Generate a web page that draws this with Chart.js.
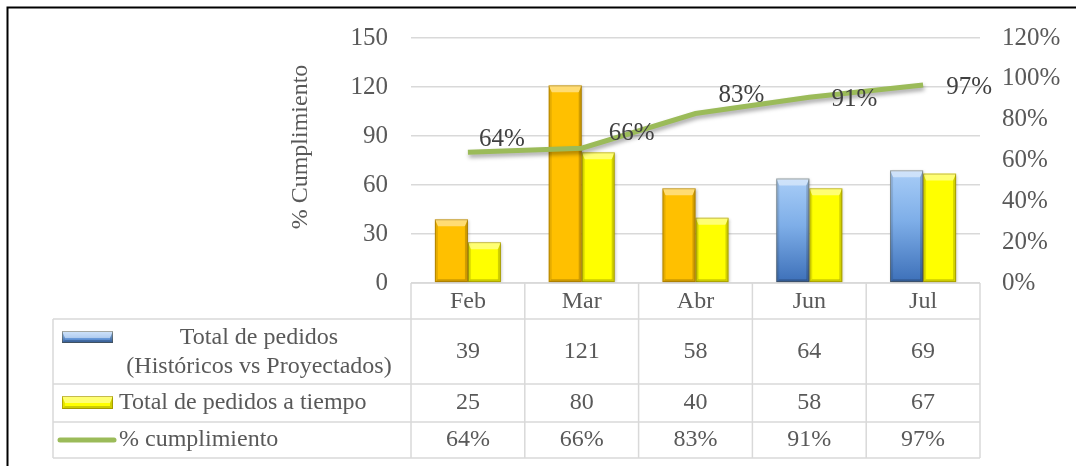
<!DOCTYPE html>
<html>
<head>
<meta charset="utf-8">
<script src="https://cdn.jsdelivr.net/npm/chart.js@4.4.1/dist/chart.umd.min.js"></script>
<style>
  html, body { margin: 0; padding: 0; background: #ffffff; }
  #grafico { display: block; }
</style>
</head>
<body>
<canvas id="grafico" width="1076" height="466"></canvas>
<script>
// datos
var categorias = ["Feb", "Mar", "Abr", "Jun", "Jul"];
var totalPedidos = [39, 121, 58, 64, 69];
var pedidosATiempo = [25, 80, 40, 58, 67];
var cumplimiento = [0.64, 0.66, 0.83, 0.91, 0.97];
var esHistorico = [true, true, true, false, false];
var ticksPedidos = [0, 30, 60, 90, 120, 150];
var ticksPorcentaje = [0, 0.2, 0.4, 0.6, 0.8, 1.0, 1.2];
var filasTabla = [
    ["Total de pedidos", "(Históricos vs Proyectados)"],
    ["Total de pedidos a tiempo"],
    ["% cumplimiento"]
];
var tituloEje = "% Cumplimiento";

var FUENTE = '"Liberation Serif", "DejaVu Serif", serif';
var GRIS_TEXTO = "#595959";
var GRIS_LINEA = "#d9d9d9";
var VERDE = "#9bbb59";
var NARANJA = "#ffc000";
var AMARILLO = "#ffff00";

function pct(v) {
    return Math.round(v * 100) + "%";
}

function gradienteAzul(ctx, yTop, yBot) {
    var g = ctx.createLinearGradient(0, yTop, 0, yBot);
    g.addColorStop(0, "#a8cdf7");
    g.addColorStop(0.45, "#7eaee8");
    g.addColorStop(1, "#3c6fb8");
    return g;
}

// caras del bisel sobre una barra ya pintada
function bisel(ctx, x0, x1, yTop, yBot) {
    var b = 3, bt = 7;
    if (yBot - yTop < bt + b) {
        bt = Math.max(1, (yBot - yTop) / 2);
    }
    ctx.save();
    ctx.fillStyle = "rgba(255,255,255,0.45)";
    ctx.beginPath();
    ctx.moveTo(x0, yTop);
    ctx.lineTo(x1, yTop);
    ctx.lineTo(x1 - b, yTop + bt);
    ctx.lineTo(x0 + b, yTop + bt);
    ctx.closePath();
    ctx.fill();
    ctx.fillStyle = "rgba(0,0,0,0.10)";
    ctx.beginPath();
    ctx.moveTo(x0, yTop);
    ctx.lineTo(x0 + b, yTop + bt);
    ctx.lineTo(x0 + b, yBot - b);
    ctx.lineTo(x0, yBot);
    ctx.closePath();
    ctx.fill();
    ctx.fillStyle = "rgba(0,0,0,0.18)";
    ctx.beginPath();
    ctx.moveTo(x1, yTop);
    ctx.lineTo(x1 - b, yTop + bt);
    ctx.lineTo(x1 - b, yBot - b);
    ctx.lineTo(x1, yBot);
    ctx.closePath();
    ctx.fill();
    ctx.fillStyle = "rgba(0,0,0,0.20)";
    ctx.beginPath();
    ctx.moveTo(x0, yBot);
    ctx.lineTo(x0 + b, yBot - b);
    ctx.lineTo(x1 - b, yBot - b);
    ctx.lineTo(x1, yBot);
    ctx.closePath();
    ctx.fill();
    ctx.strokeStyle = "rgba(90,60,0,0.35)";
    ctx.lineWidth = 1;
    ctx.strokeRect(x0 + 0.5, yTop + 0.5, x1 - x0 - 1, yBot - yTop - 1);
    ctx.restore();
}

var pluginBisel = {
    "id": "bisel",
    "afterDatasetDraw": function (chart, args) {
        var meta = args.meta;
        if (meta.type !== "bar") {
            return;
        }
        var ctx = chart.ctx;
        meta.data.forEach(function (bar) {
            var p = bar.getProps(["x", "y", "base", "width"], true);
            bisel(ctx, p.x - p.width / 2, p.x + p.width / 2, p.y, p.base);
        });
    }
};

var pluginSombra = {
    "id": "sombra",
    "beforeDatasetDraw": function (chart, args) {
        var ctx = chart.ctx;
        ctx.save();
        if (args.meta.type === "line") {
            ctx.shadowColor = "rgba(0,0,0,0.35)";
            ctx.shadowBlur = 4;
            ctx.shadowOffsetX = 1;
            ctx.shadowOffsetY = 3;
        } else {
            ctx.shadowColor = "rgba(0,0,0,0.25)";
            ctx.shadowBlur = 3;
            ctx.shadowOffsetX = 1;
            ctx.shadowOffsetY = 1;
        }
    },
    "afterDatasetDraw": function (chart) {
        chart.ctx.restore();
    }
};

var pluginEtiquetas = {
    "id": "etiquetas",
    "afterDatasetsDraw": function (chart, args, opts) {
        var ctx = chart.ctx;
        chart.data.datasets.forEach(function (ds, di) {
            if (ds.type !== "line") {
                return;
            }
            var meta = chart.getDatasetMeta(di);
            ctx.save();
            ctx.font = "25px " + FUENTE;
            ctx.fillStyle = "#404040";
            ctx.textAlign = "center";
            ctx.textBaseline = "middle";
            meta.data.forEach(function (pt, i) {
                ctx.fillText(pct(ds.data[i]), pt.x + opts.dx[i], pt.y + opts.dy[i]);
            });
            ctx.restore();
        });
    }
};

var pluginTabla = {
    "id": "tabla",
    "afterDraw": function (chart) {
        var ctx = chart.ctx;
        var area = chart.chartArea;
        var xs = chart.scales.x;
        var paso = xs.getPixelForValue(1) - xs.getPixelForValue(0);
        var izq = 53;
        var y0 = area.bottom;
        var y1 = y0 + 36;
        var y2 = y1 + 65;
        var y3 = y2 + 38;
        var y4 = y3 + 36;

        ctx.save();
        // marco exterior
        ctx.strokeStyle = "#000000";
        ctx.lineWidth = 2;
        ctx.strokeRect(7.5, 7.5, 1200, 600);

        // titulo del eje
        ctx.save();
        ctx.translate(301, 147);
        ctx.rotate(-Math.PI / 2);
        ctx.font = "24px " + FUENTE;
        ctx.fillStyle = GRIS_TEXTO;
        ctx.textAlign = "center";
        ctx.textBaseline = "middle";
        ctx.fillText(tituloEje, 0, 0);
        ctx.restore();

        // lineas de la tabla
        ctx.strokeStyle = GRIS_LINEA;
        ctx.lineWidth = 1.5;
        ctx.beginPath();
        ctx.moveTo(area.left, y0); ctx.lineTo(area.right, y0);
        [y1, y2, y3, y4].forEach(function (y) {
            ctx.moveTo(izq, y); ctx.lineTo(area.right, y);
        });
        ctx.moveTo(izq, y1); ctx.lineTo(izq, y4);
        for (var c = 0; c <= categorias.length; c++) {
            var x = area.left + c * paso;
            ctx.moveTo(x, y0); ctx.lineTo(x, y4);
        }
        ctx.stroke();

        // textos
        ctx.font = "24px " + FUENTE;
        ctx.fillStyle = GRIS_TEXTO;
        ctx.textBaseline = "middle";
        ctx.textAlign = "center";
        categorias.forEach(function (cat, i) {
            var cx = xs.getPixelForValue(i);
            ctx.fillText(cat, cx, (y0 + y1) / 2 + 1);
            ctx.fillText(String(totalPedidos[i]), cx, (y1 + y2) / 2);
            ctx.fillText(String(pedidosATiempo[i]), cx, (y2 + y3) / 2);
            ctx.fillText(pct(cumplimiento[i]), cx, (y3 + y4) / 2);
        });
        ctx.fillText(filasTabla[0][0], 259, y1 + 19);
        ctx.fillText(filasTabla[0][1], 259, y1 + 48);
        ctx.textAlign = "left";
        ctx.fillText(filasTabla[1][0], 119, (y2 + y3) / 2);
        ctx.fillText(filasTabla[2][0], 119, (y3 + y4) / 2);

        // simbolos de la leyenda
        var sy = y1 + 12;
        ctx.fillStyle = gradienteAzul(ctx, sy, sy + 12);
        ctx.fillRect(62, sy, 51, 12);
        bisel(ctx, 62, 113, sy, sy + 12);
        var sy2 = y2 + 12;
        ctx.fillStyle = AMARILLO;
        ctx.fillRect(62, sy2, 51, 13);
        bisel(ctx, 62, 113, sy2, sy2 + 13);
        ctx.strokeStyle = VERDE;
        ctx.lineWidth = 5;
        ctx.lineCap = "round";
        ctx.beginPath();
        ctx.moveTo(60, (y3 + y4) / 2);
        ctx.lineTo(114, (y3 + y4) / 2);
        ctx.stroke();
        ctx.restore();
    }
};

var colorTotal = function (context) {
    var i = context.dataIndex;
    if (esHistorico[i]) {
        return NARANJA;
    }
    var chart = context.chart;
    if (!chart.chartArea || !chart.scales.y) {
        return "#6fa0e0";
    }
    var ys = chart.scales.y;
    return gradienteAzul(chart.ctx, ys.getPixelForValue(totalPedidos[i]), ys.getPixelForValue(0));
};

var config = {
    "data": {
        "labels": categorias,
        "datasets": [
            {
                "type": "line",
                "label": filasTabla[2][0],
                "data": cumplimiento,
                "yAxisID": "y1",
                "borderColor": VERDE,
                "borderWidth": 5,
                "pointRadius": 0,
                "tension": 0,
                "fill": false,
                "order": 0
            },
            {
                "type": "bar",
                "label": filasTabla[0].join(" "),
                "data": totalPedidos,
                "yAxisID": "y",
                "backgroundColor": colorTotal,
                "borderWidth": 0,
                "barPercentage": 1,
                "categoryPercentage": 0.58,
                "order": 1
            },
            {
                "type": "bar",
                "label": filasTabla[1][0],
                "data": pedidosATiempo,
                "yAxisID": "y",
                "backgroundColor": AMARILLO,
                "borderWidth": 0,
                "barPercentage": 1,
                "categoryPercentage": 0.58,
                "order": 1
            }
        ]
    },
    "options": {
        "responsive": false,
        "animation": false,
        "layout": {
            "padding": { "left": 0, "right": 0, "top": 37, "bottom": 183 }
        },
        "plugins": {
            "legend": { "display": false },
            "tooltip": { "enabled": false },
            "etiquetas": {
                "dx": [34, 50, 46, 45, 46],
                "dy": [-13, -15, -18, 2, 2]
            }
        },
        "scales": {
            "x": {
                "display": false,
                "offset": true
            },
            "y": {
                "position": "left",
                "min": ticksPedidos[0],
                "max": ticksPedidos[ticksPedidos.length - 1],
                "ticks": {
                    "stepSize": ticksPedidos[1] - ticksPedidos[0],
                    "padding": 23,
                    "color": GRIS_TEXTO,
                    "font": { "family": FUENTE, "size": 25 }
                },
                "grid": { "color": GRIS_LINEA, "lineWidth": 1.5, "drawTicks": false },
                "border": { "display": false },
                "afterFit": function (scale) { scale.width = 411; }
            },
            "y1": {
                "position": "right",
                "min": ticksPorcentaje[0],
                "max": ticksPorcentaje[ticksPorcentaje.length - 1],
                "ticks": {
                    "stepSize": ticksPorcentaje[1] - ticksPorcentaje[0],
                    "padding": 22,
                    "color": GRIS_TEXTO,
                    "font": { "family": FUENTE, "size": 25 },
                    "callback": function (v) { return pct(v); }
                },
                "grid": { "drawOnChartArea": false, "drawTicks": false },
                "border": { "display": false },
                "afterFit": function (scale) { scale.width = 96; }
            }
        }
    },
    "plugins": [pluginSombra, pluginBisel, pluginEtiquetas, pluginTabla]
};

var grafico = new Chart(document.getElementById("grafico").getContext("2d"), config);
</script>
</body>
</html>
